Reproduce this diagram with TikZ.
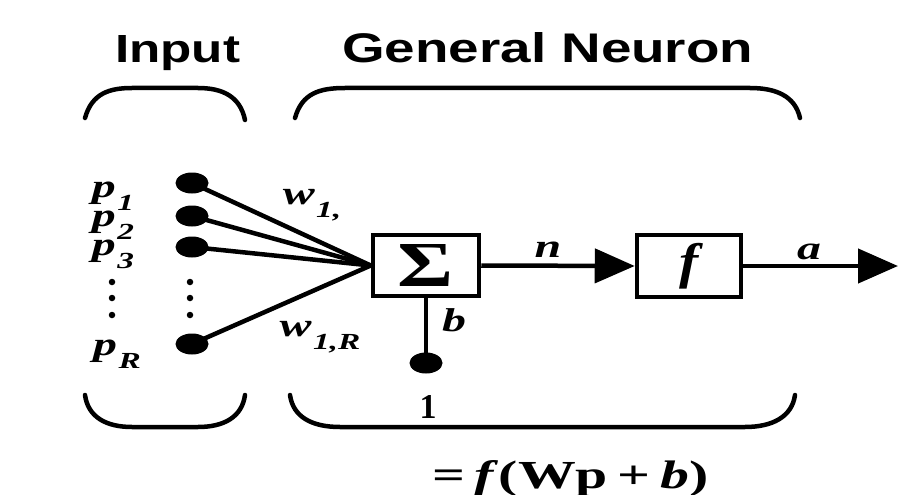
\documentclass[tikz,border=0pt]{standalone}
\usepackage{fontspec}
\setmainfont{Liberation Serif}
\newfontfamily\headfont{Liberation Sans}
\usetikzlibrary{arrows.meta,shapes.geometric}
\tikzset{
  dotnode/.style={ellipse, fill=black, minimum width=33pt, minimum height=21pt, inner sep=0pt},
  smalldot/.style={circle, fill=black, minimum size=6.5pt, inner sep=0pt},
  blockbox/.style={draw, line width=4.5pt, inner sep=0pt},
  lbl/.style={inner sep=0pt, font=\fontsize{33}{35}\selectfont\bfseries\itshape},
  bracket/.style={line width=4.5pt, line cap=round},
  conn/.style={line width=4.5pt},
  bigarrow/.style={-{Triangle[length=40pt,width=34pt]}}
}
\newcommand\hs[1]{\scalebox{1.45}[1]{#1}}
\newcommand\lsub[2]{#1\hspace{1pt}\raisebox{-0.4em}{\fontsize{23}{23}\selectfont #2}}
\begin{document}
\begin{tikzpicture}[x=1pt,y=-1pt]
\useasboundingbox[fill=white] (0,0) rectangle (914,495);
% titles
\node[inner sep=0pt, anchor=base west] (ttlin) at (115,63) {\resizebox{125pt}{27pt}{\headfont\bfseries Input}};
\node[inner sep=0pt, anchor=base west] (ttlgn) at (342,63) {\resizebox{411pt}{30pt}{\headfont\bfseries General Neuron}};
% brackets
\draw[bracket] (85,118) .. controls (92,93) and (110,88) .. (132,88) -- (198,88) .. controls (222,88) and (240,96) .. (245,120);
\draw[bracket] (295,118) .. controls (302,93) and (320,88) .. (345,88) -- (750,88) .. controls (776,88) and (795,96) .. (800,118);
\draw[bracket] (85,395) .. controls (88,417) and (106,427) .. (132,427) -- (198,427) .. controls (224,427) and (242,417) .. (245,395);
\draw[bracket] (290,395) .. controls (293,417) and (312,427) .. (340,427) -- (745,427) .. controls (772,427) and (792,417) .. (795,395);
% input dots
\node[dotnode] (in1) at (192,183) {};
\node[dotnode] (in2) at (192,216) {};
\node[dotnode] (in3) at (192,247) {};
\node[dotnode] (inR) at (192,344) {};
\node[smalldot] (d1) at (190,282) {};
\node[smalldot] (d2) at (190,298) {};
\node[smalldot] (d3) at (190,315) {};
\node[smalldot] (e1) at (112,282) {};
\node[smalldot] (e2) at (112,298) {};
\node[smalldot] (e3) at (112,315) {};
% input labels
\node[lbl] (p1) at (113,196) {\hs{\lsub{p}{1}}};
\node[lbl] (p2) at (113,225) {\hs{\lsub{p}{2}}};
\node[lbl] (p3) at (113,254) {\hs{\lsub{p}{3}}};
\node[lbl] (pR) at (117,354) {\hs{\lsub{p}{R}}};
% blocks
\node[blockbox, minimum width=106pt, minimum height=61pt] (sum) at (426,265.5) {\resizebox{56pt}{42pt}{\bfseries Σ}};
\node[blockbox, minimum width=104pt, minimum height=62pt] (fbox) at (689,266) {\fontsize{50}{50}\selectfont\bfseries\itshape \scalebox{1.15}[1]{f}};
% weights
\draw[conn] (in1.center) -- (sum.west);
\draw[conn] (in2.center) -- (sum.west);
\draw[conn] (in3.center) -- (sum.west);
\draw[conn] (inR.center) -- (sum.west);
\node[lbl] (w1) at (312,205) {\hs{\lsub{w}{1,}}};
\node[lbl] (wR) at (320,337) {\hs{\lsub{w}{1,R}}};
% n and a
\draw[conn, bigarrow] (sum.east) -- (fbox.west);
\node[lbl] (nl) at (548,250) {\hs{n}};
\coordinate (out) at (898,266);
\draw[conn, bigarrow] (fbox.east) -- (out);
\node[lbl] (al) at (809,252) {\hs{a}};
% bias
\node[dotnode] (bias) at (426,363) {};
\draw[conn] (bias.center) -- (sum.south);
\node[lbl] (bl) at (454,320) {\hs{b}};
\node[inner sep=0pt, anchor=base] (one) at (428,418) {\resizebox{17pt}{23pt}{\bfseries 1}};
% formula
\node[inner sep=0pt, anchor=base west] (form) at (432,488) {\resizebox{276pt}{28pt}{\bfseries =\,\textit{f}(Wp\,+\,\textit{b})}};
\end{tikzpicture}
\end{document}
